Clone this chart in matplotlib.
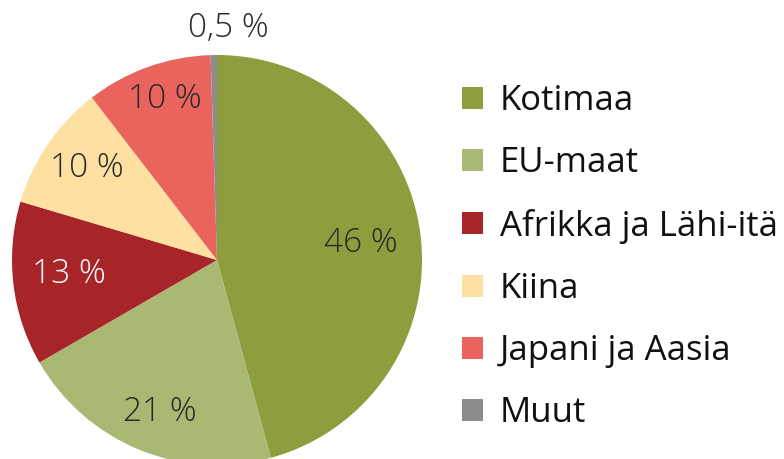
import matplotlib
matplotlib.use("Agg")
import matplotlib.pyplot as plt

categories = ["Kotimaa", "EU-maat", "Afrikka ja Lähi-itä", "Kiina", "Japani ja Aasia", "Muut"]
values = [46, 21, 13, 10, 10, 0.5]
labels = ["46 %", "21 %", "13 %", "10 %", "10 %", "0,5 %"]
colors = ["#8e9d3e", "#a9b873", "#a72528", "#fde0a2", "#e8645c", "#8c8c8c"]
label_colors = ["#2a2a2a", "#2a2a2a", "white", "#2a2a2a", "#2a2a2a", "#2a2a2a"]

plt.rcParams['font.family'] = ['Open Sans', 'DejaVu Sans']

W, H = 784, 459
fig = plt.figure(figsize=(W / 100, H / 100), dpi=100)
ax = fig.add_axes([0, 0, 1, 1])

cx, cy, r = 217, H - 260, 205
wedges, _ = ax.pie(values, colors=colors, startangle=90, counterclock=False,
                   center=(cx, cy), radius=r, wedgeprops=dict(linewidth=0))
ax.set_xlim(0, W)
ax.set_ylim(0, H)
ax.set_aspect('equal')
ax.axis('off')

label_pos = [(361, 243), (160, 412), (69, 274), (87, 168), (165, 99), (228, 28)]
for lab, (x, y), c in zip(labels, label_pos, label_colors):
    ax.text(x, H - y, lab, ha='center', va='center', fontsize=24, color=c,
            fontweight='light')

fs = 25
leg = ax.legend(wedges, categories, loc='upper left', bbox_to_anchor=(462 / W, 1 - 84 / H),
                bbox_transform=fig.transFigure, frameon=False, fontsize=fs,
                handlelength=0.6, handleheight=0.6, handletextpad=0.48,
                labelspacing=0.815, borderpad=0, borderaxespad=0)
for t in leg.get_texts():
    t.set_color('#111111')

fig.savefig("out.png", dpi=100)
